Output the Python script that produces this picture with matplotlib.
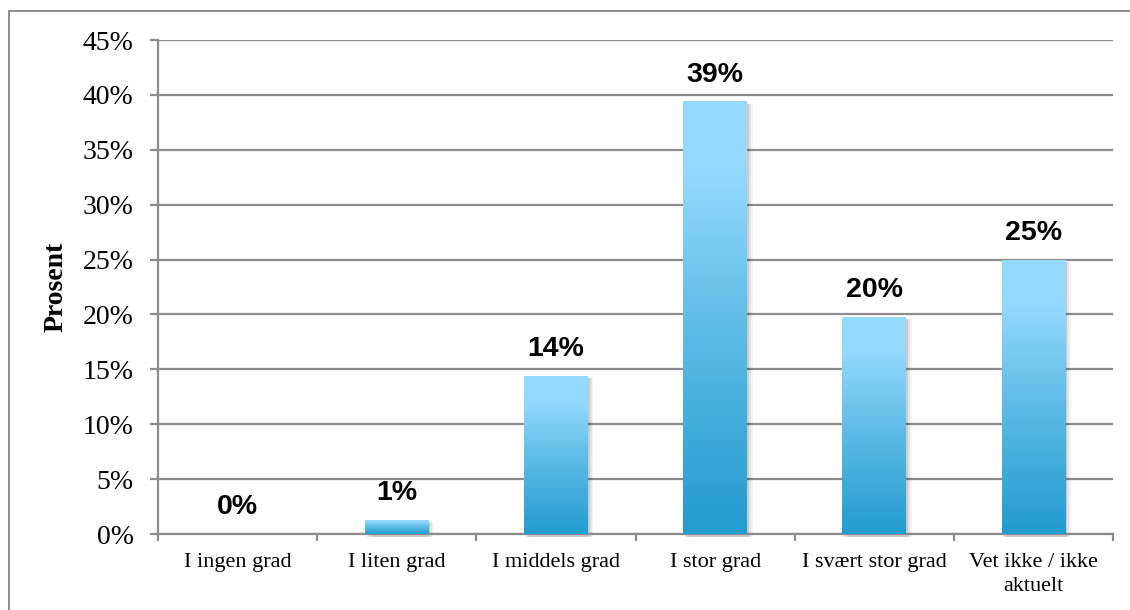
import numpy as np
import matplotlib
matplotlib.use("Agg")
import matplotlib.pyplot as plt
from matplotlib.colors import LinearSegmentedColormap
from matplotlib.lines import Line2D
from matplotlib.patches import Rectangle

# survey answers, share of respondents in percent
categories = ["I ingen grad", "I liten grad", "I middels grad", "I stor grad",
              "I svært stor grad", "Vet ikke / ikke\naktuelt"]
values = [0.0, 1.3, 14.4, 39.4, 19.8, 25.0]
yticks = [0, 5, 10, 15, 20, 25, 30, 35, 40, 45]

grid_col = "#8c8c8c"
bar_top = "#95dafd"
bar_mid = "#62bde8"
bar_bottom = "#229bcf"

fig = plt.figure(figsize=(11.3, 6.1), dpi=100)
ax = fig.add_axes([158 / 1130, 1 - 534 / 610, (1113 - 158) / 1130, (534 - 40) / 610])

x = np.arange(len(categories))
bars = ax.bar(x, values, width=0.4, color="none", edgecolor="none", zorder=3)

# vertical gradient inside each bar, light at the top and darker at the base
cmap = LinearSegmentedColormap.from_list(
    "barfade", [(0.0, bar_bottom), (0.5, bar_mid), (0.85, bar_top), (1.0, bar_top)])
grad = np.linspace(0, 1, 256).reshape(-1, 1)
for b in bars:
    x0, w, h = b.get_x(), b.get_width(), b.get_height()
    if h <= 0:
        continue
    # soft shadow to the right and below
    for k, a in zip([0.012, 0.024, 0.036], [0.10, 0.07, 0.04]):
        ax.add_patch(Rectangle((x0 + k, -0.25), w, h + 0.05, facecolor="#000000",
                               alpha=a, edgecolor="none", zorder=2.5, clip_on=False))
    im = ax.imshow(grad, cmap=cmap, origin="lower", aspect="auto",
                   extent=(x0, x0 + w, 0, h), zorder=3, interpolation="bicubic")
    im.set_clip_path(b)

for xi, v in zip(x, values):
    ax.annotate(f"{v:.0f}%", (xi, v), xytext=(0, 10), textcoords="offset points",
                ha="center", va="bottom", fontsize=20.5, fontweight="bold",
                family="Liberation Sans", zorder=4)

ax.set_xlim(-0.5, len(categories) - 0.5)
ax.set_ylim(0, 45)
ax.set_yticks(yticks)
ax.set_yticklabels([f"{t}%" for t in yticks], family="Liberation Serif", fontsize=20)
ax.yaxis.grid(True, color=grid_col, linewidth=1.6, zorder=1)
ax.set_axisbelow(True)

# category names sit between the boundary ticks
ax.set_xticks(x)
ax.set_xticklabels(categories, family="Liberation Serif", fontsize=16, linespacing=1.3)
ax.set_xticks(np.arange(len(categories) + 1) - 0.5, minor=True)
ax.tick_params(axis="x", which="major", length=0, pad=14)
ax.tick_params(axis="x", which="minor", length=5, width=1.6, color=grid_col, direction="out")
ax.tick_params(axis="y", length=5.5, width=1.6, color=grid_col, pad=12)

for side in ("top", "right"):
    ax.spines[side].set_visible(False)
for side in ("left", "bottom"):
    ax.spines[side].set_color(grid_col)
    ax.spines[side].set_linewidth(1.6)

ax.set_ylabel("Prosent", family="Liberation Serif", fontweight="bold", fontsize=20,
              labelpad=10)

# frame around the chart area
fig.add_artist(Line2D([9 / 1130, 9 / 1130], [0, 1 - 11 / 610], color=grid_col, linewidth=1.4))
fig.add_artist(Line2D([9 / 1130, 1], [1 - 11 / 610, 1 - 11 / 610], color=grid_col, linewidth=1.4))

fig.savefig("out.png", dpi=100)
